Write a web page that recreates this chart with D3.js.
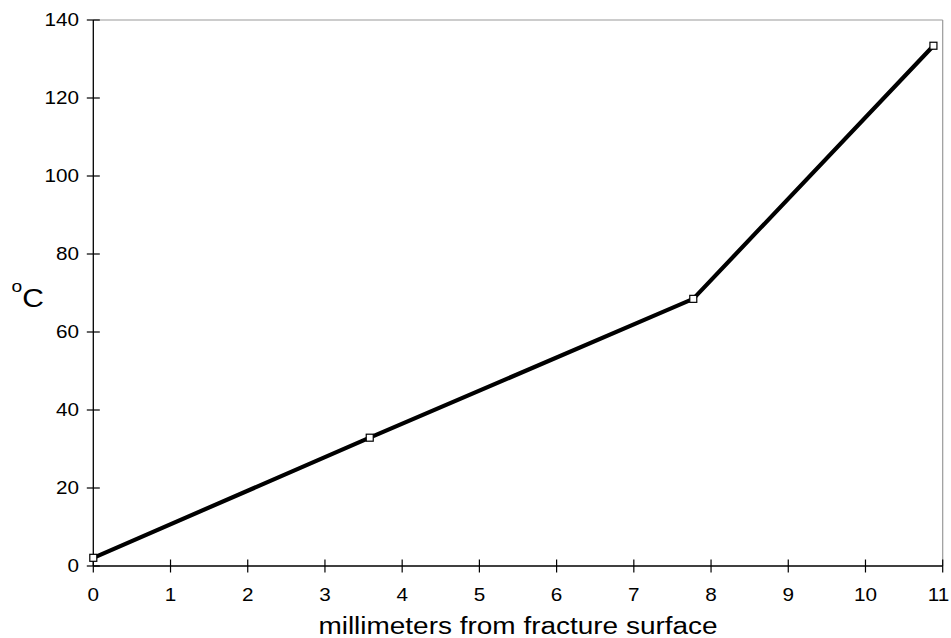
<!DOCTYPE html>
<html><head><meta charset="utf-8">
<script src="https://cdn.jsdelivr.net/npm/d3@7"></script>
<style>body{margin:0;background:#fff}svg{display:block;font-family:"Liberation Sans",Arial,sans-serif}</style>
</head><body>
<svg id="c" width="951" height="638"></svg>
<script>
const xValues = [0, 3.58, 7.77, 10.88];
const yValues = [2.1, 32.9, 68.5, 133.4];
const xTicks = [0,1,2,3,4,5,6,7,8,9,10,11];
const yTicks = [0,20,40,60,80,100,120,140];
const xTitle = "millimeters from fracture surface";

const svg = d3.select("#c");
const L = 93.3, R = 942.7, T = 20, B = 566;
const SX = 1.15;
const x = d3.scaleLinear().domain([0,11]).range([L,R]);
const y = d3.scaleLinear().domain([0,140]).range([B,T]);

// top & right frame (grey)
svg.append("line").attr("x1",L).attr("x2",R).attr("y1",T).attr("y2",T).attr("stroke","#999").attr("stroke-width",1.2);
svg.append("line").attr("x1",R).attr("x2",R).attr("y1",T).attr("y2",B).attr("stroke","#999").attr("stroke-width",1.2);

// y axis
const ya = svg.append("g");
ya.append("line").attr("x1",L).attr("x2",L).attr("y1",T).attr("y2",B).attr("stroke","#000").attr("stroke-width",1.3);
ya.selectAll("line.t").data(yTicks).enter().append("line").attr("class","t")
  .attr("x1",L-6.5).attr("x2",L+6.5).attr("y1",d=>y(d)).attr("y2",d=>y(d)).attr("stroke","#000").attr("stroke-width",1.2);
ya.selectAll("text").data(yTicks).enter().append("text")
  .attr("transform",d=>`translate(79,${y(d)}) scale(${SX},1)`).attr("dy","0.36em").attr("text-anchor","end")
  .attr("font-size",18).text(d=>d);

// x axis
const xa = svg.append("g");
xa.append("line").attr("x1",L).attr("x2",R).attr("y1",B).attr("y2",B).attr("stroke","#000").attr("stroke-width",1.3);
xa.selectAll("line.t").data(xTicks).enter().append("line").attr("class","t")
  .attr("x1",d=>x(d)).attr("x2",d=>x(d)).attr("y1",B-6.5).attr("y2",B+6.5).attr("stroke","#000").attr("stroke-width",1.2);
xa.selectAll("text").data(xTicks).enter().append("text")
  .attr("transform",d=>`translate(${Math.min(x(d), 938.5)},601) scale(${SX},1)`).attr("text-anchor","middle")
  .attr("font-size",18).text(d=>d);

svg.append("text").attr("transform",`translate(${(L+R)/2},634) scale(1.216,1)`).attr("text-anchor","middle")
  .attr("font-size",23).text(xTitle);

// y title
const yt = svg.append("text").attr("transform","translate(11.5,307) scale(1.2,1)").attr("font-size",25);
yt.append("tspan").attr("font-size",16).attr("dy",-15).text("o");
yt.append("tspan").attr("dy",15).text("C");

// line
const pts = xValues.map((v,i)=>[v,yValues[i]]);
svg.append("path").datum(pts)
  .attr("d", d3.line().x(d=>x(d[0])).y(d=>y(d[1])))
  .attr("fill","none").attr("stroke","#000").attr("stroke-width",4.2);
svg.selectAll("rect.m").data(pts).enter().append("rect").attr("class","m")
  .attr("x",d=>x(d[0])-3.5).attr("y",d=>y(d[1])-3.5).attr("width",7).attr("height",7)
  .attr("fill","#fff").attr("stroke","#000").attr("stroke-width",1.2);
</script>
</body></html>
